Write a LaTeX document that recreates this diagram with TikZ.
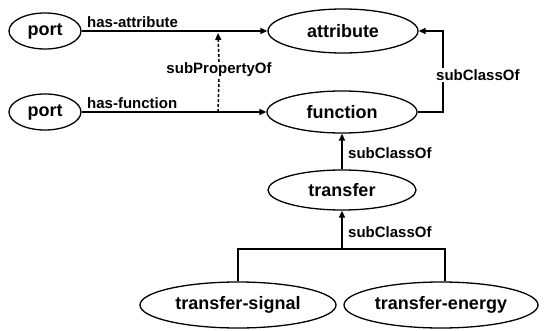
\documentclass[tikz,border=0pt]{standalone}
\usepackage{fontspec}
\setmainfont{Liberation Sans}
\usetikzlibrary{shapes.geometric,arrows.meta}
\begin{document}
\begin{tikzpicture}[x=1pt,y=-1pt,
  ent/.style={ellipse, draw, line width=1.3pt, inner sep=0pt, font=\fontsize{18}{20}\selectfont\bfseries},
  lbl/.style={font=\fontsize{15}{17}\selectfont\bfseries, inner sep=1pt},
  conn/.style={line width=1.5pt},
  arr/.style={conn, -{Triangle[length=7pt,width=6pt]}}]
\useasboundingbox (0,0) rectangle (545,331);
\node[ent, minimum width=72pt, minimum height=36pt] (p1) at (45,31) {port};
\node[ent, minimum width=72pt, minimum height=36pt] (p2) at (45,112) {port};
\node[ent, minimum width=150pt, minimum height=44pt] (attr) at (343,31) {attribute};
\node[ent, minimum width=150pt, minimum height=42pt] (func) at (342,112) {function};
\node[ent, minimum width=148pt, minimum height=40pt] (tr) at (342,190) {transfer};
\node[ent, minimum width=196pt, minimum height=46pt] (ts) at (238,305) {transfer-signal};
\node[ent, minimum width=194pt, minimum height=46pt] (te) at (441,305) {transfer-energy};
% has-attribute / has-function
\draw[arr] (p1.east) -- (attr.west);
\draw[arr] (p2.east) -- (func.west);
\node[lbl, anchor=south west] (ha) at (86,29) {has-attribute};
\node[lbl, anchor=south west] (hf) at (86,110) {has-function};
% subPropertyOf
\coordinate (sp0) at (218,112);
\coordinate (sp1) at (218,33);
\node[lbl] (spl) at (219,70) {subPropertyOf};
\draw[conn, dash pattern=on 3pt off 2pt] (sp0) -- (spl.south);
\draw[arr, dash pattern=on 3pt off 2pt] (spl.north) -- (sp1);
% right subClassOf
\coordinate (rb) at (443,112);
\coordinate (rt) at (443,31);
\node[lbl, anchor=west] (rl) at (435,75) {subClassOf};
\draw[conn] (func.east) -- (rb) -- (rb |- rl.south);
\draw[arr] (rt |- rl.north) -- (rt) -- (attr.east);
% function - transfer
\draw[arr] (tr.north) -- (func.south);
\node[lbl, anchor=west] (l2) at (347,153) {subClassOf};
% bracket
\coordinate (bl) at (238,249);
\coordinate (br) at (445,249);
\coordinate (bm) at (342,249);
\draw[conn] (ts.north -| bl) -- (bl) -- (br) -- (te.north -| br);
\draw[arr] (bm) -- (tr.south);
\node[lbl, anchor=west] (l3) at (347,232) {subClassOf};
\end{tikzpicture}
\end{document}
